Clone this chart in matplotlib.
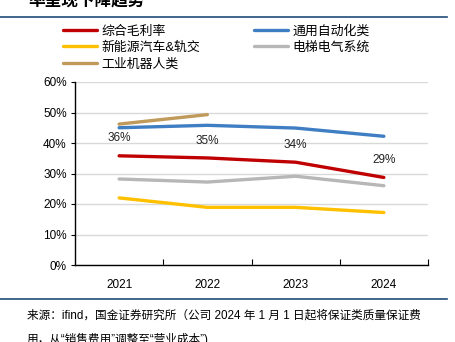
import matplotlib
matplotlib.use("Agg")
import matplotlib.pyplot as plt
from matplotlib.lines import Line2D

plt.rcParams["font.family"] = ["Liberation Sans", "Noto Sans CJK SC", "DejaVu Sans"]

# data (gross margin by segment, %)
years = ["2021", "2022", "2023", "2024"]
total = [35.8, 35.1, 33.7, 28.7]
general_auto = [45.0, 45.8, 44.9, 42.2]
nev_rail = [22.0, 18.9, 18.9, 17.2]
elevator = [28.2, 27.2, 29.1, 26.0]
robot = [46.2, 49.3]
total_labels = ["36%", "35%", "34%", "29%"]

RED = "#C00000"
BLUE = "#3F7EC3"
YELLOW = "#FFC000"
GREY = "#B7B7B7"
TAN = "#C09A5A"
NAVY = "#1F4E79"

fig = plt.figure(figsize=(4.55, 3.42), dpi=100)
ax = fig.add_axes([75 / 455, 1 - 265 / 342, 353 / 455, 183 / 342])

x = list(range(len(years)))
lw = 2.4
l_total, = ax.plot(x, total, color=RED, lw=lw, solid_capstyle="round", zorder=3)
l_auto, = ax.plot(x, general_auto, color=BLUE, lw=lw, solid_capstyle="round", zorder=3)
l_nev, = ax.plot(x, nev_rail, color=YELLOW, lw=lw, solid_capstyle="round", zorder=3)
l_elev, = ax.plot(x, elevator, color=GREY, lw=lw, solid_capstyle="round", zorder=3)
l_robot, = ax.plot(x[:len(robot)], robot, color=TAN, lw=lw, solid_capstyle="round", zorder=3)

for xi, v, lab in zip(x, total, total_labels):
    ax.annotate(lab, (xi, v), xytext=(0, 12.5), textcoords="offset points",
                ha="center", va="center", fontsize=8.5, color="#222222")

ax.set_xlim(-0.5, 3.5)
ax.set_ylim(0, 60)
ax.set_yticks(range(0, 61, 10))
ax.set_yticklabels([f"{v}%" for v in range(0, 61, 10)], fontsize=8.5)
ax.set_xticks(x)
ax.set_xticklabels(years, fontsize=8.5)
ax.set_xticks([0.5, 1.5, 2.5, 3.5], minor=True)
ax.tick_params(axis="x", which="major", length=0, pad=10)
ax.tick_params(axis="x", which="minor", direction="in", length=4, width=0.8)
ax.tick_params(axis="y", direction="out", length=3, width=0.8, pad=3)
ax.grid(axis="y", color="#D9D9D9", lw=1)
ax.set_axisbelow(True)
for s in ["top", "right"]:
    ax.spines[s].set_visible(False)
for s in ["left", "bottom"]:
    ax.spines[s].set_color("black")
    ax.spines[s].set_linewidth(1.0)

handles = [l_total, l_nev, l_robot, l_auto, l_elev]
labels = ["综合毛利率", "新能源汽车&轨交", "工业机器人类", "通用自动化类", "电梯电气系统"]
fig.legend(handles, labels, ncol=2, loc="upper left", bbox_to_anchor=(63 / 455, 1 - 25 / 342),
           frameon=False, fontsize=9.3, handlelength=2.6, handletextpad=0.35,
           columnspacing=4.2, labelspacing=0.32, borderaxespad=0, borderpad=0)

# header / footer decorations
fig.text(28 / 455, 1 - 1 / 342, "率呈现下降趋势", fontsize=12, fontweight="bold",
         style="italic", ha="left", va="center", color="black")
fig.add_artist(Line2D([0, 447 / 455], [1 - 16.5 / 342] * 2, color=NAVY, lw=1.2))
fig.add_artist(Line2D([0, 447 / 455], [1 - 299 / 342] * 2, color=NAVY, lw=1.2))
fig.text(27 / 455, 1 - 316 / 342,
         "来源：ifind，国金证券研究所（公司 2024 年 1 月 1 日起将保证类质量保证费",
         fontsize=8.4, ha="left", va="center")
fig.text(27 / 455, 1 - 339 / 342, "用，从“销售费用”调整至“营业成本”)",
         fontsize=8.4, ha="left", va="center")

fig.savefig("out.png", dpi=100)
